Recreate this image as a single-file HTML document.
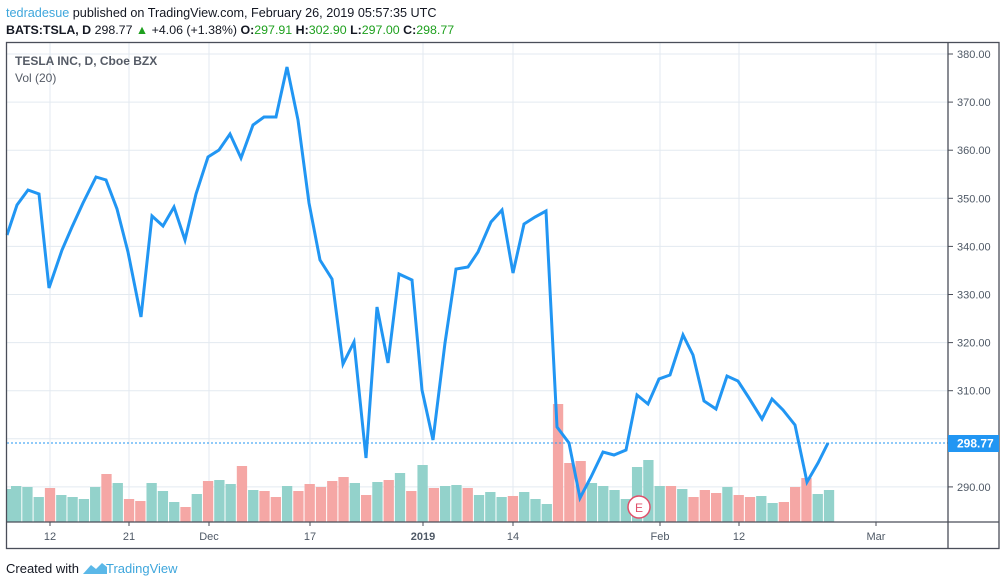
<!DOCTYPE html>
<html><head><meta charset="utf-8"><style>
body{margin:0;background:#fff;width:1006px;height:586px;overflow:hidden;font-family:"Liberation Sans",sans-serif}
svg{display:block}
</style></head><body>
<svg id="s" width="1006" height="586" xmlns="http://www.w3.org/2000/svg" font-family="Liberation Sans, sans-serif">
<text x="6" y="17" font-size="12.65" fill="#131722"><tspan fill="#3ea6dc">tedradesue</tspan> published on TradingView.com, February 26, 2019 05:57:35 UTC</text>
<text x="6" y="34" font-size="12.4" fill="#131722"><tspan font-weight="bold">BATS:TSLA, D</tspan> 298.77 <tspan fill="#1ea01e">▲</tspan> +4.06 (+1.38%) <tspan font-weight="bold">O:</tspan><tspan fill="#1ea01e">297.91</tspan> <tspan font-weight="bold">H:</tspan><tspan fill="#1ea01e">302.90</tspan> <tspan font-weight="bold">L:</tspan><tspan fill="#1ea01e">297.00</tspan> <tspan font-weight="bold">C:</tspan><tspan fill="#1ea01e">298.77</tspan></text>
<g id="grid" stroke="#e3eaf0" stroke-width="1"></g>
<g id="bars"></g>
<line x1="7" y1="443" x2="948" y2="443" stroke="#2196f3" stroke-dasharray="2,2" stroke-width="1"/>
<polyline id="pl" fill="none" stroke="#2196f3" stroke-width="3" stroke-linejoin="miter"/>
<circle cx="639" cy="507" r="11" fill="#fff" stroke="#e0506a" stroke-width="1.5"/>
<text x="639" y="512" font-size="12" fill="#e0506a" text-anchor="middle">E</text>
<text x="15" y="65" font-size="12" font-weight="bold" fill="#555b66">TESLA INC, D, Cboe BZX</text>
<text x="15" y="82" font-size="12" fill="#555b66">Vol (20)</text>
<g fill="none" stroke="#4a4e59" stroke-width="1.3">
<rect x="6.5" y="42.5" width="992.5" height="506"/>
<line x1="948" y1="42" x2="948" y2="549"/>
<line x1="6" y1="522" x2="999" y2="522"/>
</g>
<g id="ax" font-size="11" fill="#4f5966"></g>
<rect x="948" y="435" width="51" height="17" fill="#2196f3"/>
<text x="957" y="447.5" font-size="12" font-weight="bold" fill="#fff">298.77</text>
<text x="6" y="573" font-size="13" fill="#131722">Created with</text>
<path d="M83 574 l8 -9 l5 4 l6 -6 l5 4 v7 z" fill="#5bb8e8"/>
<text x="106" y="573" font-size="13" fill="#3ea6dc">TradingView</text>
</svg>
<script>
var NS="http://www.w3.org/2000/svg";
function el(p,t,a,txt){var e=document.createElementNS(NS,t);for(var k in a)e.setAttribute(k,a[k]);if(txt)e.textContent=txt;document.getElementById(p).appendChild(e);return e;}
for(var k=0;k<10;k++){var y=54+k*48.1;el("grid","line",{x1:7,x2:948,y1:y,y2:y});
 el("ax","text",{x:957,y:y+4},(380-k*10).toFixed(2));
 el("ax","line",{x1:948,x2:953,y1:y,y2:y,stroke:"#4a4e59"});}
var ticks=[[50,"12"],[129,"21"],[209,"Dec"],[310,"17"],[423,"2019"],[513,"14"],[660,"Feb"],[739,"12"],[876,"Mar"]];
ticks.forEach(function(t){el("grid","line",{x1:t[0],x2:t[0],y1:43,y2:522});
 el("ax","line",{x1:t[0],x2:t[0],y1:522,y2:526,stroke:"#4a4e59"});
 var a={x:t[0],y:540,"text-anchor":"middle"};if(t[1]=="2019")a["font-weight"]="bold";el("ax","text",a,t[1]);});
var v="t486 t487 t497 r488 t495 t497 t499 t487 r474 t483 r499 r501 t483 t491 t502 r507 t494 r481 t480 t484 r466 t490 r491 r497 t486 r491 r484 r487 r481 r477 t483 r495 t482 r480 t473 r491 t465 r488 t486 t485 r488 t495 t492 t497 r496 t492 t499 t504 r404 r463 r461 t483 t486 t490 t499 t467 t460 t486 r486 t489 r497 r490 r493 t487 r495 r497 t496 t503 r502 r487 r478 t494 t490".split(" ");
var st=11.29;
el("bars","rect",{x:7,y:489,width:4,height:33,fill:"#93d2cb"});
v.forEach(function(s,i){var c=16+i*st,top=+s.slice(1);el("bars","rect",{x:c-5,y:top,width:10.3,height:522-top,fill:s[0]=="t"?"#93d2cb":"#f5a7a5"});});
var pts="7,235 17,205 28,190 39,194 49,288 62,250 72,227 83,203 96,177 106,180 117,209 128,252 141,317 152,216 163,226 174,207 185,240 196,194 208,157 219,150 230,134 241,158 253,125 264,117 276,117 287,67 298,120 309,203 320,260 332,279 343,364 354,342 366,458 377,307 388,363 399,274 412,280 422,390 433,440 445,343 456,269 468,267 478,252 491,222 502,210 513,273 524,224 535,217 546,211 557,427 569,443 580,498 591,477 603,452 614,455 626,450 637,395 648,404 659,379 670,375 683,335 693,355 704,401 716,409 727,376 738,381 749,398 762,419 772,399 783,410 795,425 807,482 818,463 828,443";
document.getElementById("pl").setAttribute("points",pts);
</script>
</body></html>
